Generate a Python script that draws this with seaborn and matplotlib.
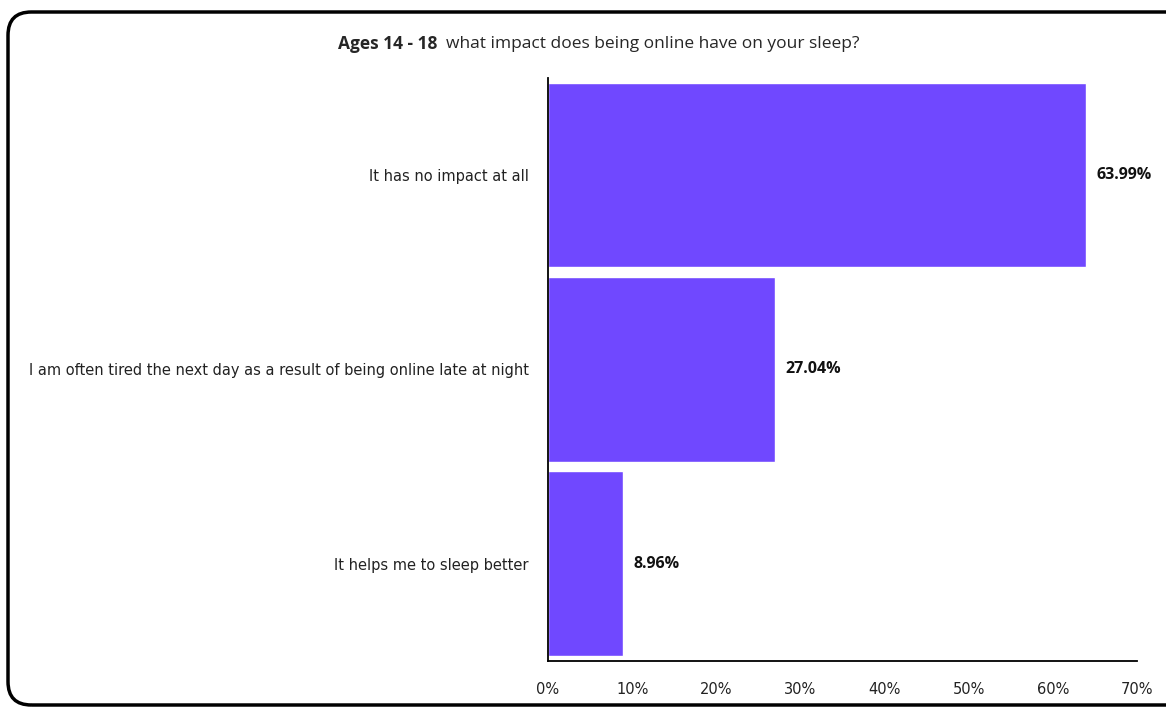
import matplotlib
matplotlib.use("Agg")
import matplotlib.pyplot as plt
from matplotlib.patches import FancyBboxPatch
from matplotlib.ticker import PercentFormatter
import seaborn as sns
import pandas as pd

# Survey responses, ages 14 - 18
categories = [
    "It has no impact at all",
    "I am often tired the next day as a result of being online late at night",
    "It helps me to sleep better",
]
percentages = [63.99, 27.04, 8.96]
x_ticks = [0, 10, 20, 30, 40, 50, 60, 70]

df = pd.DataFrame({"response": categories, "pct": percentages})

sns.set_theme(style="white")
plt.rcParams["font.family"] = ["Liberation Sans Narrow", "DejaVu Sans"]

fig = plt.figure(figsize=(11.66, 7.07), dpi=100)
ax = fig.add_axes([0.470, 0.065, 0.505, 0.825])

bar_color = "#7048FF"
sns.barplot(data=df, x="pct", y="response", orient="h", color=bar_color,
            width=0.95, saturation=1, ax=ax)

ax.set_xlim(0, 70)
ax.set_xticks(x_ticks)
ax.xaxis.set_major_formatter(PercentFormatter(decimals=0))
ax.set_xlabel("")
ax.set_ylabel("")
ax.tick_params(axis="x", direction="out", length=5, width=1.2, color="black",
               labelsize=10.5, labelcolor="#222222", pad=10)
ax.tick_params(axis="y", length=0, labelsize=10.5, labelcolor="#222222", pad=14)

for side in ("top", "right"):
    ax.spines[side].set_visible(False)
for side in ("left", "bottom"):
    ax.spines[side].set_color("black")
    ax.spines[side].set_linewidth(1.3)

# Value labels at the end of each bar
for i, v in enumerate(percentages):
    ax.text(v + 1.2, i, f"{v:.2f}%", va="center", ha="left",
            fontsize=11.5, fontweight="bold", color="#111111",
            family=["Open Sans", "DejaVu Sans"])

# Title: bold age range followed by the question
fig.text(437 / 1166, 0.938, "Ages 14 - 18", ha="right", va="center",
         fontsize=12.5, fontweight="bold", family=["Open Sans", "DejaVu Sans"])
fig.text(446 / 1166, 0.938, "what impact does being online have on your sleep?",
         ha="left", va="center", fontsize=12.5, family=["Open Sans", "DejaVu Sans"])

# Rounded frame around the chart area
frame = FancyBboxPatch((8 / 1166, 2 / 707), 1.05, 1 - 14 / 707,
                       boxstyle="round,pad=0,rounding_size=0.02",
                       transform=fig.transFigure, fill=False,
                       edgecolor="black", linewidth=2.5, clip_on=False,
                       mutation_aspect=1166 / 707)
fig.patches.append(frame)

fig.savefig("out.png", dpi=100)
